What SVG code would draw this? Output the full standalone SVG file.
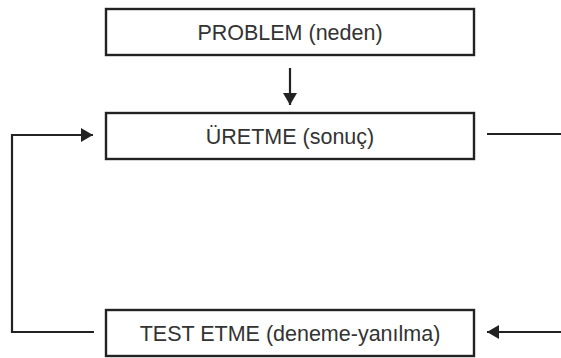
<svg xmlns="http://www.w3.org/2000/svg" width="561" height="358" viewBox="0 0 561 358">
<style>
.box{fill:#fff;stroke:#222;stroke-width:2.4}
.lbl{font-family:"Liberation Sans",Arial,sans-serif;font-size:21.5px;fill:#333;text-anchor:middle}
.con{fill:none;stroke:#222;stroke-width:2.2}
</style>
<defs>
<marker id="ah" markerWidth="12" markerHeight="14" refX="12" refY="7" orient="auto" markerUnits="userSpaceOnUse">
<path d="M0,0 L12,7 L0,14 Z" fill="#222"/>
</marker>
</defs>
<rect width="561" height="358" fill="#fff"/>
<g id="problem">
<rect class="box" x="106" y="9" width="368" height="46"/>
<text class="lbl" x="290" y="40">PROBLEM (neden)</text>
</g>
<g id="uretme">
<rect class="box" x="106" y="113" width="368" height="46"/>
<text class="lbl" x="290" y="144">ÜRETME (sonuç)</text>
</g>
<g id="test">
<rect class="box" x="106" y="310" width="368" height="46"/>
<text class="lbl" x="290" y="341">TEST ETME (deneme-yanılma)</text>
</g>
<g id="connectors">
<line class="con" x1="290" y1="68" x2="290" y2="105" marker-end="url(#ah)"/>
<polyline class="con" points="94,332 12,332 12,135 93,135" marker-end="url(#ah)"/>
<line class="con" x1="487" y1="134" x2="561" y2="134"/>
<line class="con" x1="561" y1="332" x2="487" y2="332" marker-end="url(#ah)"/>
</g>
</svg>
